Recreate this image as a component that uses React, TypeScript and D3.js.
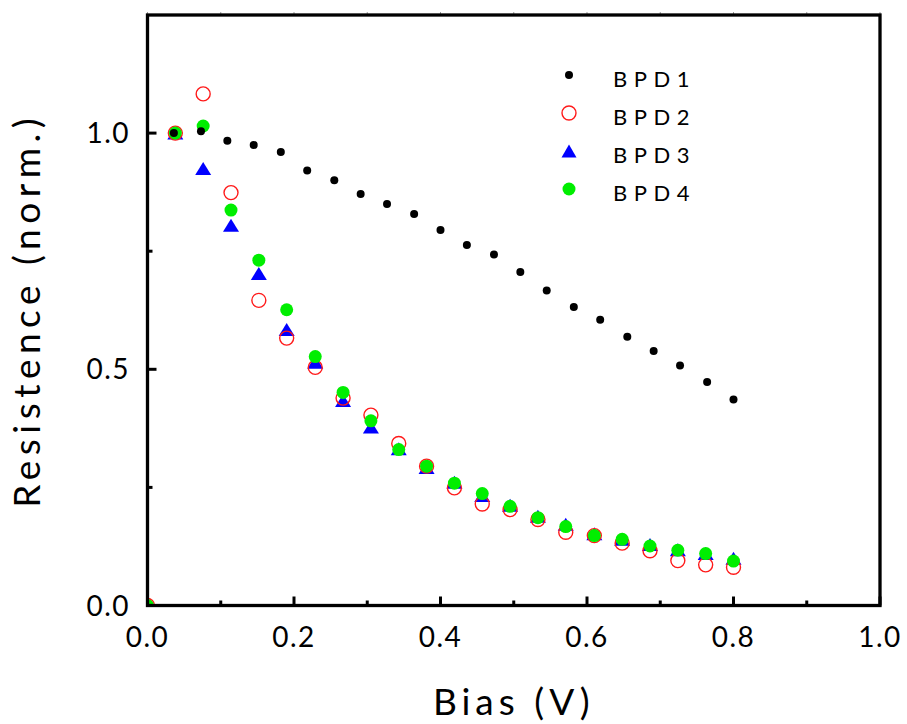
import React from "react";
import * as d3 from "d3";

// ---- data ----
const biasBPD1 = [0.036, 0.073, 0.109, 0.145, 0.182, 0.218, 0.255, 0.291, 0.327, 0.364, 0.4, 0.436, 0.473, 0.509, 0.545, 0.582, 0.618, 0.655, 0.691, 0.727, 0.764, 0.8];
const resBPD1 = [1.0, 1.004, 0.984, 0.975, 0.96, 0.921, 0.9, 0.871, 0.85, 0.829, 0.795, 0.763, 0.743, 0.706, 0.667, 0.632, 0.605, 0.569, 0.539, 0.508, 0.473, 0.436];

const biasBPD234 = [0, 0.038, 0.076, 0.114, 0.152, 0.19, 0.229, 0.267, 0.305, 0.343, 0.381, 0.419, 0.457, 0.495, 0.533, 0.571, 0.61, 0.648, 0.686, 0.724, 0.762, 0.8];
const resBPD2 = [0, 1.0, 1.083, 0.874, 0.646, 0.566, 0.504, 0.439, 0.403, 0.343, 0.295, 0.249, 0.215, 0.203, 0.182, 0.155, 0.148, 0.132, 0.116, 0.095, 0.086, 0.081];
const resBPD3 = [0, 1.0, 0.925, 0.805, 0.703, 0.584, 0.515, 0.434, 0.378, 0.332, 0.292, 0.261, 0.233, 0.212, 0.189, 0.172, 0.152, 0.14, 0.129, 0.118, 0.11, 0.1];
const resBPD4 = [0, 1.0, 1.015, 0.837, 0.731, 0.626, 0.527, 0.451, 0.391, 0.33, 0.295, 0.259, 0.237, 0.21, 0.186, 0.167, 0.148, 0.14, 0.126, 0.117, 0.11, 0.094];

const seriesNames = ["BPD1", "BPD2", "BPD3", "BPD4"];
const xTicks = [0, 0.2, 0.4, 0.6, 0.8, 1.0];
const xMinorTicks = [0.1, 0.3, 0.5, 0.7, 0.9];
const yTicks = [0, 0.5, 1.0];
const yMinorTicks = [0.25, 0.75];

const W = 907;
const H = 724;
const L = 147.5, R = 880, T = 15, B = 605.5;

const FONT = "Lato, 'Open Sans', sans-serif";

function tri(cx: number, cy: number, w = 16, h = 13) {
  return `M${cx},${cy - h / 2}L${cx + w / 2},${cy + h / 2}L${cx - w / 2},${cy + h / 2}Z`;
}

export default function App() {
  const x = d3.scaleLinear().domain([0, 1]).range([L, R]);
  const y = d3.scaleLinear().domain([0, 1.25]).range([B, T]);
  const fmt = d3.format(".1f");

  const legendY = [75, 113, 151, 189];
  const legendX = 569;

  return (
    <svg width={W} height={H} style={{ position: "absolute", left: 0, top: 0, background: "#fff" }}>
      <defs>
        <clipPath id="plotclip">
          <rect x={L} y={T} width={R - L} height={B - T} />
        </clipPath>
      </defs>
      <rect x={0} y={0} width={W} height={H} fill="#fff" />

      {/* data */}
      <g clipPath="url(#plotclip)">
        {biasBPD234.map((v, i) => (
          <path key={"b3" + i} d={tri(x(v), y(resBPD3[i]))} fill="#0000ff" />
        ))}
        {biasBPD234.map((v, i) => (
          <circle key={"b2" + i} cx={x(v)} cy={y(resBPD2[i])} r={7} fill="none" stroke="#ff1a1a" strokeWidth={1.4} />
        ))}
        {biasBPD234.map((v, i) => (
          <circle key={"b4" + i} cx={x(v)} cy={y(resBPD4[i])} r={6.5} fill="#00ee00" />
        ))}
        {biasBPD1.map((v, i) => (
          <circle key={"b1" + i} cx={x(v)} cy={y(resBPD1[i])} r={4} fill="#000" />
        ))}
      </g>

      {/* top faint ticks */}
      {[...xTicks, ...xMinorTicks].map((t) => (
        <line key={"tt" + t} x1={x(t)} x2={x(t)} y1={T - 3} y2={T} stroke="#999" strokeWidth={1} />
      ))}

      {/* frame */}
      <rect x={L} y={T} width={R - L} height={B - T} fill="none" stroke="#000" strokeWidth={3.3} />

      {/* x ticks */}
      {xTicks.map((t) => (
        <line key={"xt" + t} x1={x(t)} x2={x(t)} y1={B} y2={B - 9} stroke="#000" strokeWidth={3} />
      ))}
      {xMinorTicks.map((t) => (
        <line key={"xm" + t} x1={x(t)} x2={x(t)} y1={B} y2={B - 5} stroke="#000" strokeWidth={3} />
      ))}
      {xTicks.map((t) => (
        <text key={"xl" + t} x={x(t)} y={647} textAnchor="middle" fontFamily={FONT} fontSize={28} letterSpacing={1.5} fill="#000">
          {fmt(t)}
        </text>
      ))}

      {/* y ticks */}
      {yTicks.map((t) => (
        <line key={"yt" + t} x1={L} x2={L + 9} y1={y(t)} y2={y(t)} stroke="#000" strokeWidth={3} />
      ))}
      {yMinorTicks.map((t) => (
        <line key={"ym" + t} x1={L} x2={L + 5} y1={y(t)} y2={y(t)} stroke="#000" strokeWidth={3} />
      ))}
      {yTicks.map((t) => (
        <text key={"yl" + t} x={130} y={y(t) + 10} textAnchor="end" fontFamily={FONT} fontSize={28} letterSpacing={1.5} fill="#000">
          {fmt(t)}
        </text>
      ))}

      {/* axis titles */}
      <text x={(L + R) / 2} y={715} textAnchor="middle" fontFamily={FONT} fontSize={37} letterSpacing={5} fill="#000">
        Bias (V)
      </text>
      <text
        transform={`translate(40,${(T + B) / 2}) rotate(-90)`}
        textAnchor="middle"
        fontFamily={FONT}
        fontSize={37}
        letterSpacing={5.5}
        fill="#000"
      >
        Resistence (norm.)
      </text>

      {/* legend */}
      <circle cx={legendX} cy={legendY[0]} r={4} fill="#000" />
      <circle cx={legendX} cy={legendY[1]} r={7} fill="none" stroke="#ff1a1a" strokeWidth={1.4} />
      <path d={tri(legendX, legendY[2], 15, 13)} fill="#0000ff" />
      <circle cx={legendX} cy={legendY[3]} r={6.5} fill="#00ee00" />
      {seriesNames.map((n, i) => (
        <text key={n} x={613} y={legendY[i] + 12} fontFamily={FONT} fontSize={22} letterSpacing={6.5} fill="#000">
          {n}
        </text>
      ))}
    </svg>
  );
}
